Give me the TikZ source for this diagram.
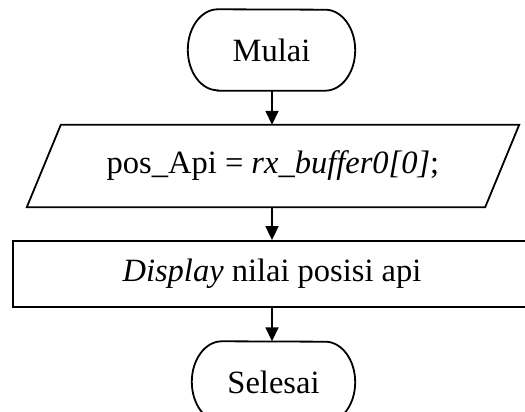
\documentclass[tikz,border=0pt]{standalone}
\usepackage{fontspec}
\setmainfont{Liberation Serif}
\usetikzlibrary{arrows.meta}
\begin{document}
\begin{tikzpicture}[x=1pt,y=1pt,
  lbl/.style={inner sep=0pt, font=\fontsize{32.5}{38}\selectfont},
  shp/.style={line width=1.8pt, line join=miter},
  flow/.style={line width=1.8pt, -{Triangle[length=14pt,width=13pt]}}]
\useasboundingbox (0,0) rectangle (525,412);
\clip (0,0) rectangle (525,412);
% Mulai
\node[lbl, minimum width=167, minimum height=81] (start) at (271.5,362) {Mulai};
\draw[shp] ([xshift=30]start.south west) -- ([xshift=-30]start.south east)
  arc[start angle=-90,end angle=90,x radius=30,y radius=40.5]
  -- ([xshift=30]start.north west)
  arc[start angle=90,end angle=270,x radius=30,y radius=40.5] -- cycle;
% input/output
\node[lbl, minimum width=458, minimum height=82] (io) at (273,246) {pos\_Api = \textit{rx\_buffer0[0]};};
\draw[shp] ([xshift=-17]io.south west) -- ([xshift=17]io.north west)
  -- ([xshift=17]io.north east) -- ([xshift=-17]io.south east) -- cycle;
% process
\node[lbl, draw, shp, minimum width=518, minimum height=66] (proc) at (272,138) {\textit{Display} nilai posisi api};
% Selesai
\node[lbl, minimum width=163, minimum height=81] (stop) at (273.5,30) {Selesai};
\draw[shp] ([xshift=30]stop.south west) -- ([xshift=-30]stop.south east)
  arc[start angle=-90,end angle=90,x radius=30,y radius=40.5]
  -- ([xshift=30]stop.north west)
  arc[start angle=90,end angle=270,x radius=30,y radius=40.5] -- cycle;
% connectors
\draw[flow] (start.south -| 272,0) -- (io.north -| 272,0);
\draw[flow] (io.south -| 272,0) -- (proc.north -| 272,0);
\draw[flow] (proc.south -| 272,0) -- (stop.north -| 272,0);
\end{tikzpicture}
\end{document}
